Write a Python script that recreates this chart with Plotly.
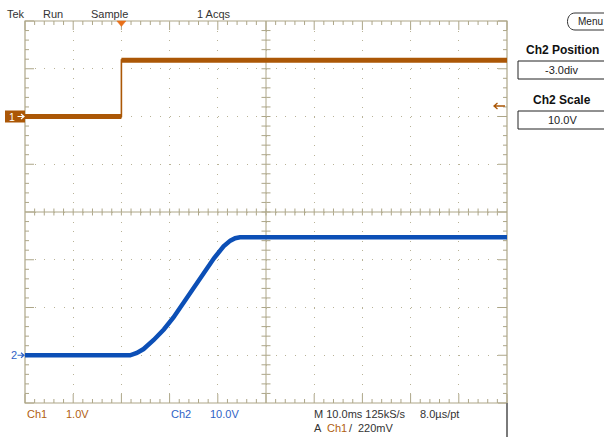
import plotly.graph_objects as go

# Time base: 10 ms/div, 10 divisions, trigger 2 div from the left edge
time_range_ms = [-20.0, 80.0]
ms_per_div = 10.0

# Channel settings
ch1_volts_per_div = 1.0
ch1_position_div = 2.0
ch2_volts_per_div = 10.0
ch2_position_div = -3.0
trigger_time_ms = 0.0
trigger_level_v = 0.22

# CH1 : step
ch1_time_ms = [-20.0, 0.0, 0.0, 80.0]
ch1_volts = [0.0, 0.0, 1.18, 1.18]

# CH2 : ramp
ch2_time_ms = [-20.0, 1.8, 3.2, 4.6, 6.7, 8.8, 10.8, 12.9, 15.0, 17.1, 19.2, 21.2, 22.6, 23.6, 24.6, 80.0]
ch2_volts = [0.0, 0.0, 0.5, 1.3, 3.2, 5.4, 7.9, 11.0, 14.2, 17.3, 20.3, 22.8, 24.0, 24.5, 24.7, 24.7]

# Readout texts
status_labels = ["Tek", "Run", "Sample", "1 Acqs"]
ch_readouts = ["Ch1", "1.0V", "Ch2", "10.0V"]
time_readout = ["M 10.0ms 125kS/s", "8.0µs/pt"]
trig_readout = ["A", "Ch1", "/", "220mV"]
menu_labels = ["Menu", "Ch2 Position", "-3.0div", "Ch2 Scale", "10.0V"]

# ---------------- styling ----------------
ORANGE = "#ab5706"
ORANGE_TXT = "#b0600f"
BLUE = "#0c4fb6"
BLUE_TXT = "#2f62c6"
TAN = "#ada688"
DOT = "#b9b398"
DARK = "#333333"
FONT = "Liberation Sans, Arial, sans-serif"

W, H = 604, 437
L, R, T, B = 25, 507, 21, 403   # graticule box in pixels


def px(x):
    return (x - L) / (R - L)


def py(y):
    return (B - y) / (B - T)


ch1_range = [(-4 - ch1_position_div) * ch1_volts_per_div, (4 - ch1_position_div) * ch1_volts_per_div]
ch2_range = [(-4 - ch2_position_div) * ch2_volts_per_div, (4 - ch2_position_div) * ch2_volts_per_div]

fig = go.Figure()

# CH1: thin trace for whole record, thick band on the flat (noisy) parts
fig.add_trace(go.Scatter(x=ch1_time_ms, y=ch1_volts, mode="lines",
                         line=dict(color=ORANGE, width=1.6), yaxis="y", hoverinfo="skip"))
bx, by = [], []
for i in range(len(ch1_time_ms) - 1):
    if ch1_time_ms[i + 1] != ch1_time_ms[i]:
        bx += [ch1_time_ms[i], ch1_time_ms[i + 1], None]
        by += [ch1_volts[i], ch1_volts[i + 1], None]
fig.add_trace(go.Scatter(x=bx, y=by, mode="lines", connectgaps=False,
                         line=dict(color=ORANGE, width=5), yaxis="y", hoverinfo="skip"))

# CH2
fig.add_trace(go.Scatter(x=ch2_time_ms, y=ch2_volts, mode="lines",
                         line=dict(color=BLUE, width=4.5),
                         yaxis="y2", hoverinfo="skip"))

# ---------------- graticule ----------------
seg = []


def line_px(x0, y0, x1, y1):
    seg.append(f"M{px(x0):.5f},{py(y0):.5f}L{px(x1):.5f},{py(y1):.5f}")


nx, ny = 50, 40
for i in range(nx + 1):
    x = L + (R - L) * i / nx
    ln = 9 if i % 5 == 0 else 4
    line_px(x, T, x, T + ln)
    line_px(x, B, x, B - ln)
    if 0 < i < nx:
        line_px(x, (T + B) / 2 - 3.5, x, (T + B) / 2 + 3.5)
for j in range(ny + 1):
    y = T + (B - T) * j / ny
    ln = 9 if j % 5 == 0 else 4
    line_px(L, y, L + ln, y)
    line_px(R, y, R - ln, y)
    if 0 < j < ny:
        line_px((L + R) / 2 - 4.5, y, (L + R) / 2 + 4.5, y)
line_px(L, (T + B) / 2, R, (T + B) / 2)
line_px((L + R) / 2, T, (L + R) / 2, B)

shapes = [
    dict(type="path", xref="paper", yref="paper", path="".join(seg),
         line=dict(color=TAN, width=1), layer="between"),
    dict(type="rect", xref="paper", yref="paper", x0=0, x1=1, y0=0, y1=1,
         line=dict(color=TAN, width=1.2), layer="between"),
    # grey frame line below the graticule at the right
    dict(type="line", xref="paper", yref="paper", x0=px(507), x1=px(507), y0=py(403), y1=py(437),
         line=dict(color="#7a7a7a", width=2)),
]

# trigger position marker (top)
tx = px(L + (trigger_time_ms - time_range_ms[0]) / (time_range_ms[1] - time_range_ms[0]) * (R - L))
tw = 4.5 / (R - L)
shapes.append(dict(type="path", xref="paper", yref="paper",
                   path=f"M{tx - tw},{py(21)}L{tx + tw},{py(21)}L{tx},{py(26.5)}Z",
                   fillcolor="#e8701a", line=dict(color="#e8701a", width=0.5)))

# trigger level arrow (right)
lvl_y = B - ((trigger_level_v / ch1_volts_per_div) + ch1_position_div + 4) * (B - T) / 8
shapes.append(dict(type="path", xref="paper", yref="paper",
                   path=f"M{px(505)},{py(lvl_y)}L{px(494)},{py(lvl_y)}M{px(497.5)},{py(lvl_y - 3)}L{px(494)},{py(lvl_y)}L{px(497.5)},{py(lvl_y + 3)}",
                   line=dict(color=ORANGE, width=1.3)))

# channel ground markers
g1 = B - (ch1_position_div + 4) * (B - T) / 8
g2 = B - (ch2_position_div + 4) * (B - T) / 8
shapes.append(dict(type="rect", xref="paper", yref="paper", x0=px(5), x1=px(25),
                   y0=py(g1 + 6), y1=py(g1 - 6), fillcolor=ORANGE, line=dict(width=0)))
for (gy, col) in [(g1, "white"), (g2, BLUE_TXT)]:
    shapes.append(dict(type="path", xref="paper", yref="paper",
                       path=f"M{px(17.5)},{py(gy)}L{px(24)},{py(gy)}M{px(21)},{py(gy - 2.5)}L{px(24)},{py(gy)}L{px(21)},{py(gy + 2.5)}",
                       line=dict(color=col, width=1.2)))

# right-hand menu boxes
shapes.append(dict(type="path", xref="paper", yref="paper",
                   path=f"M{px(608)},{py(13)}L{px(575)},{py(13)}C{px(565)},{py(13)} {px(565)},{py(30)} {px(575)},{py(30)}L{px(608)},{py(30)}",
                   line=dict(color="#333333", width=1)))
for (y0, y1) in [(61, 79), (111, 129)]:
    shapes.append(dict(type="rect", xref="paper", yref="paper", x0=px(518), x1=px(612),
                       y0=py(y1), y1=py(y0), line=dict(color="#222222", width=1)))

# ---------------- text ----------------
ann = []


def txt(s, x, y, color=DARK, size=11, bold=False, anchor="left"):
    ann.append(dict(text=f"<b>{s}</b>" if bold else s, x=px(x), y=py(y), xref="paper", yref="paper",
                    xanchor=anchor, yanchor="middle", showarrow=False,
                    font=dict(family=FONT, size=size, color=color)))


for s, x in zip(status_labels, [5, 41, 89, 195]):
    txt(s, x, 13.5)
for s, x, c in zip(ch_readouts, [25, 64, 169, 208], [ORANGE_TXT, ORANGE_TXT, BLUE_TXT, BLUE_TXT]):
    txt(s, x, 414, c)
txt(time_readout[0], 312, 414)
txt(time_readout[1], 418, 414)
for s, x, c in zip(trig_readout, [312, 325, 347, 356], [DARK, ORANGE_TXT, DARK, DARK]):
    txt(s, x, 428, c)
txt(menu_labels[0], 576, 21.5, "#222222", 10)
txt(menu_labels[1], 562, 50, "#111111", 12, True, "center")
txt(menu_labels[2], 562, 70, "#222222", 11, False, "center")
txt(menu_labels[3], 562, 100, "#111111", 12, True, "center")
txt(menu_labels[4], 562, 120, "#222222", 11, False, "center")
txt("1", 12, g1, "white", 10.5, False, "center")
txt("2", 13.5, g2, BLUE_TXT, 11, False, "center")

fig.update_layout(
    width=W, height=H, autosize=False,
    margin=dict(l=L, r=W - R, t=T, b=H - B, pad=0, autoexpand=False),
    paper_bgcolor="white", plot_bgcolor="white", showlegend=False,
    xaxis=dict(range=time_range_ms, showticklabels=False, ticks="", zeroline=False, showline=False,
               showgrid=True, dtick=ms_per_div, tick0=time_range_ms[0],
               gridcolor=DOT, gridwidth=1, griddash="1px,8.55px", fixedrange=True),
    yaxis=dict(range=ch1_range, showticklabels=False, ticks="", zeroline=False, showline=False,
               showgrid=True, dtick=ch1_volts_per_div, tick0=0,
               gridcolor=DOT, gridwidth=1, griddash="1px,8.64px", fixedrange=True),
    yaxis2=dict(range=ch2_range, overlaying="y", visible=False, fixedrange=True),
    shapes=shapes, annotations=ann,
)

fig.write_html("out.html", config={"displayModeBar": False},
               post_script="document.body.style.margin='0';document.body.style.padding='0';"
                           "document.documentElement.style.overflow='hidden';")
